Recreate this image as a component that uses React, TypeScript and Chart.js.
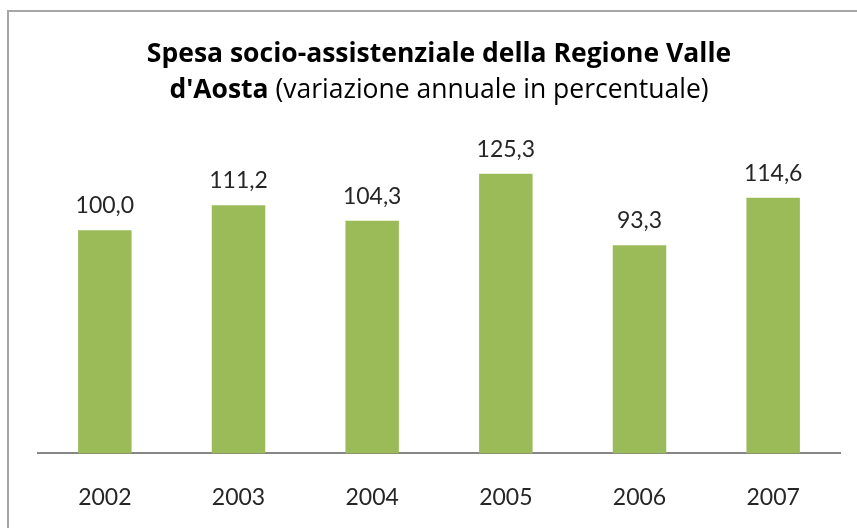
import React, { useEffect, useRef } from "react";
import { Chart, registerables } from "chart.js";

Chart.register(...registerables);

const categories = ["2002", "2003", "2004", "2005", "2006", "2007"];
const values = [100.0, 111.2, 104.3, 125.3, 93.3, 114.6];
const titleLine1 = "Spesa socio-assistenziale della Regione Valle";
const titleLine2Bold = "d'Aosta";
const titleLine2Normal = " (variazione annuale in percentuale)";

const FONT = "Lato, 'Open Sans', sans-serif";
const TITLE_FONT = "'Open Sans', sans-serif";
const TITLE_SIZE = 26.5;

const fmt = (v: number) => v.toFixed(1).replace(".", ",");

const labelPlugin = {
  id: "barLabels",
  afterDatasetsDraw(chart: any) {
    const ctx = chart.ctx;
    const meta = chart.getDatasetMeta(0);
    ctx.save();
    ctx.font = `23px ${FONT}`;
    ctx.fillStyle = "#262626";
    ctx.textAlign = "center";
    ctx.textBaseline = "alphabetic";
    meta.data.forEach((bar: any, i: number) => {
      ctx.fillText(fmt(values[i]), bar.x, bar.y - 17);
    });
    ctx.restore();
  },
};

const titlePlugin = {
  id: "mixedTitle",
  afterDraw(chart: any) {
    const ctx = chart.ctx;
    const cx = (chart.chartArea.left + chart.chartArea.right) / 2;
    ctx.save();
    ctx.fillStyle = "#000000";
    ctx.textBaseline = "alphabetic";
    ctx.textAlign = "left";
    ctx.font = `bold ${TITLE_SIZE}px ${TITLE_FONT}`;
    const w1 = ctx.measureText(titleLine1).width;
    ctx.fillText(titleLine1, cx - w1 / 2, 50);
    const wb = ctx.measureText(titleLine2Bold).width;
    ctx.font = `${TITLE_SIZE}px ${TITLE_FONT}`;
    const wn = ctx.measureText(titleLine2Normal).width;
    const start = cx - (wb + wn) / 2;
    ctx.font = `bold ${TITLE_SIZE}px ${TITLE_FONT}`;
    ctx.fillText(titleLine2Bold, start, 86);
    ctx.font = `${TITLE_SIZE}px ${TITLE_FONT}`;
    ctx.fillText(titleLine2Normal, start + wb, 86);
    ctx.restore();
  },
};

export default function App() {
  const ref = useRef<HTMLCanvasElement>(null);
  useEffect(() => {
    if (!ref.current) return;
    const chart = new Chart(ref.current, {
      type: "bar",
      data: {
        labels: categories,
        datasets: [
          {
            data: values,
            backgroundColor: "#9BBB59",
            borderWidth: 0,
            categoryPercentage: 1,
            barPercentage: 0.4,
          },
        ],
      },
      options: {
        animation: false,
        responsive: false,
        maintainAspectRatio: false,
        layout: { padding: { left: 29, right: 29, top: 129, bottom: 0 } },
        plugins: {
          legend: { display: false },
          title: { display: false },
          tooltip: { enabled: false },
        },
        scales: {
          x: {
            grid: { display: false },
            border: { display: true, color: "#868686", width: 2 },
            ticks: {
              color: "#262626",
              font: { family: FONT, size: 23 },
              padding: 22,
            },
          },
          y: {
            display: false,
            min: 0,
            max: 140,
          },
        },
      },
      plugins: [labelPlugin, titlePlugin],
    });
    return () => chart.destroy();
  }, []);

  return (
    <div style={{ position: "fixed", left: 0, top: 0, width: 857, height: 528, overflow: "hidden", background: "#fff" }}>
      <div
        style={{
          position: "absolute",
          left: 7,
          top: 10,
          width: 900,
          height: 600,
          border: "2px solid #A6A6A6",
          background: "#fff",
        }}
      >
        <canvas ref={ref} width={860} height={521} style={{ display: "block" }} />
      </div>
    </div>
  );
}
